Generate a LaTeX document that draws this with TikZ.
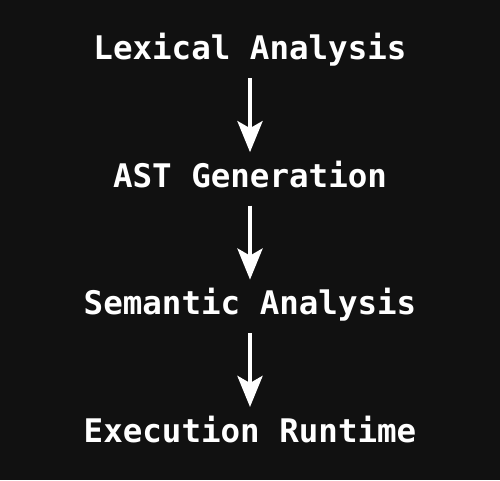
\documentclass[tikz,border=0pt]{standalone}
\usepackage{fontspec}
\setmonofont{DejaVu Sans Mono}
\usepackage{xcolor}
\usetikzlibrary{arrows.meta, positioning}
\definecolor{canvas}{HTML}{111111}
\definecolor{ink}{HTML}{FFFFFF}

\begin{document}
\begin{tikzpicture}[
  x=1pt, y=1pt,
  node distance=74pt,
  stage/.style={text=ink, font=\ttfamily\bfseries\fontsize{32.5}{39}\selectfont,
    text height=24pt, text depth=7pt, inner xsep=0pt, inner ysep=11pt},
  flow/.style={-{Stealth[length=31pt, width=25pt, inset=7pt]}, line width=4.5pt, color=ink}
]
  \fill[canvas] (0,0) rectangle (500,480);
  \useasboundingbox (0,0) rectangle (500,480);

  \node[stage, anchor=base] (lex) at (250,420) {Lexical Analysis};
  \node[stage, below=of lex] (ast) {AST Generation};
  \node[stage, below=of ast] (sem) {Semantic Analysis};
  \node[stage, below=of sem] (run) {Execution Runtime};

  \draw[flow] (lex) -- (ast);
  \draw[flow] (ast) -- (sem);
  \draw[flow] (sem) -- (run);
\end{tikzpicture}
\end{document}
